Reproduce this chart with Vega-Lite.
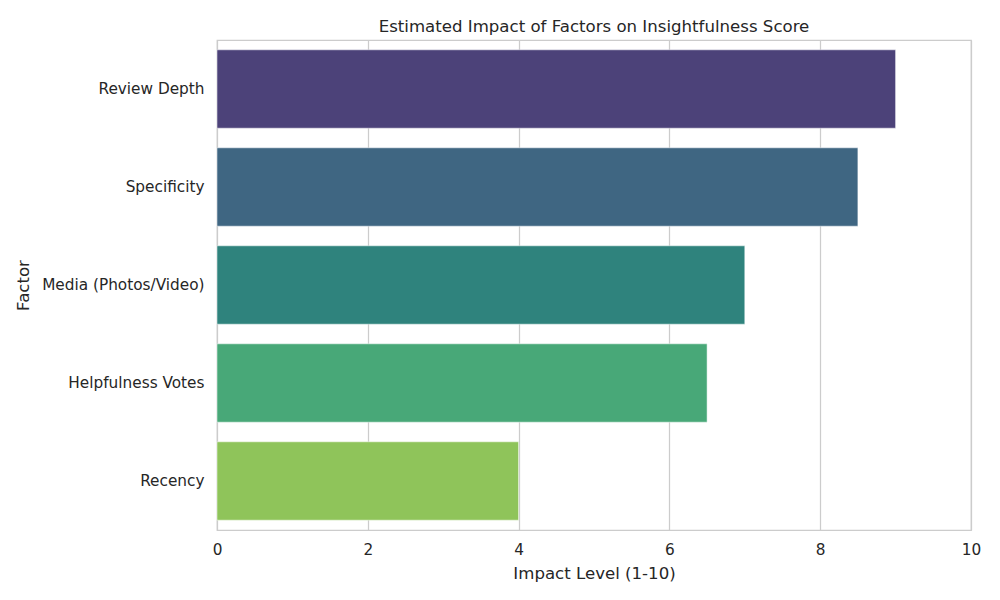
{
  "$schema": "https://vega.github.io/schema/vega-lite/v6.json",
  "width": 754,
  "height": 490,
  "autosize": "none",
  "padding": {"left": 217, "top": 40, "right": 29, "bottom": 70},
  "background": "white",
  "title": {
    "text": "Estimated Impact of Factors on Insightfulness Score",
    "font": "DejaVu Sans",
    "fontSize": 16.6,
    "fontWeight": "normal",
    "color": "#262626",
    "offset": 4
  },
  "config": {
    "view": {"stroke": "#cccccc", "strokeWidth": 1.25},
    "font": "DejaVu Sans"
  },
  "data": {
    "values": [
      {"factor": "Review Depth", "impact": 9.0, "color": "#4c4279"},
      {"factor": "Specificity", "impact": 8.5, "color": "#3f6682"},
      {"factor": "Media (Photos/Video)", "impact": 7.0, "color": "#2f837d"},
      {"factor": "Helpfulness Votes", "impact": 6.5, "color": "#48a878"},
      {"factor": "Recency", "impact": 4.0, "color": "#8fc45a"}
    ]
  },
  "mark": {"type": "bar", "stroke": "white", "strokeWidth": 0.5},
  "encoding": {
    "y": {
      "field": "factor",
      "type": "nominal",
      "sort": null,
      "scale": {"paddingInner": 0.2, "paddingOuter": 0.1},
      "axis": {
        "title": "Factor",
        "titleFont": "DejaVu Sans",
        "titleFontSize": 16.6,
        "titleFontWeight": "normal",
        "titleColor": "#262626",
        "titlePadding": 10,
        "labelFont": "DejaVu Sans",
        "labelFontSize": 15.3,
        "labelColor": "#262626",
        "labelPadding": 13,
        "ticks": false,
        "domain": false,
        "grid": false
      }
    },
    "x": {
      "field": "impact",
      "type": "quantitative",
      "scale": {"domain": [0, 10], "nice": false},
      "axis": {
        "title": "Impact Level (1-10)",
        "values": [0, 2, 4, 6, 8, 10],
        "titleFont": "DejaVu Sans",
        "titleFontSize": 16.6,
        "titleFontWeight": "normal",
        "titleColor": "#262626",
        "titlePadding": 8,
        "labelFont": "DejaVu Sans",
        "labelFontSize": 15.3,
        "labelColor": "#262626",
        "labelPadding": 12,
        "labelFlush": false,
        "ticks": false,
        "domain": false,
        "grid": true,
        "gridColor": "#cccccc",
        "gridWidth": 1.25
      }
    },
    "color": {"field": "color", "type": "nominal", "scale": null, "legend": null}
  }
}
